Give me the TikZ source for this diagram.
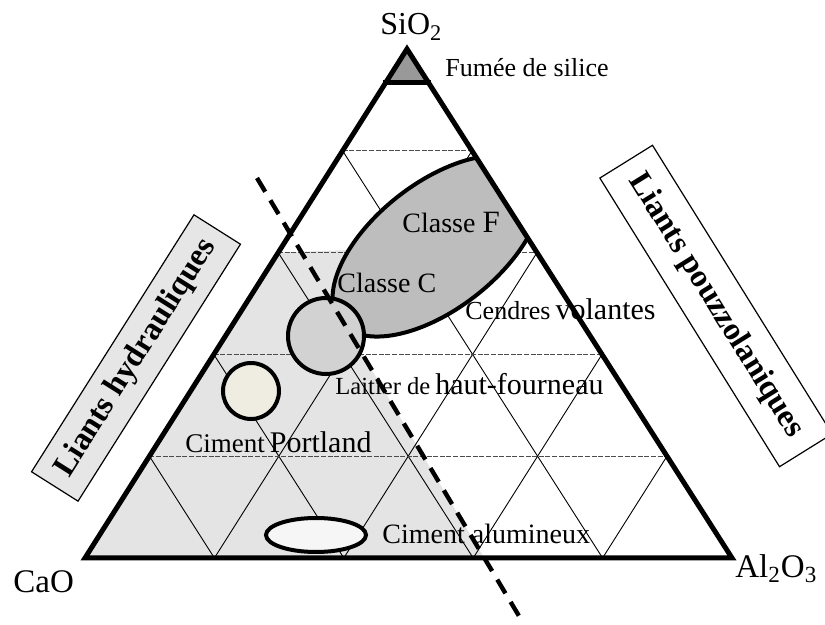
\documentclass[tikz,border=0pt]{standalone}
\usepackage{fontspec}
\setmainfont{Liberation Serif}
\usetikzlibrary{calc}
\definecolor{zonegray}{HTML}{E4E4E4}
\definecolor{ellFgray}{HTML}{BDBDBD}
\definecolor{laitgray}{HTML}{D2D2D2}
\definecolor{portcream}{HTML}{EFEDE2}
\definecolor{alumwhite}{HTML}{F6F6F6}
\definecolor{fumgray}{HTML}{999999}
\definecolor{boxgray}{HTML}{E6E6E6}
\begin{document}
\begin{tikzpicture}[x=0.5pt,y=-0.5pt,
  hgrid/.style={draw=black!70, line width=0.5pt, dash pattern=on 2.5pt off 0.8pt},
  dgrid/.style={draw=black, line width=0.45pt},
  thickedge/.style={line width=2.5pt},
  blob/.style={draw=black, line width=2pt},
  dashline/.style={line width=2.2pt, dash pattern=on 8pt off 5pt},
  lbl/.style={inner sep=0pt, anchor=base west},
  sidebox/.style={draw=black, line width=0.6pt, inner sep=0pt},
  sidetext/.style={font=\bfseries\fontsize{16}{18}\selectfont}]
\useasboundingbox (0,0) rectangle (825,625);
\clip (0,0) rectangle (825,625);
% corners of the diagram
\coordinate (A) at (407,49);
\coordinate (B) at (85,558);
\coordinate (C) at (732,558);
\coordinate (d1) at (257,178);
\coordinate (d2) at (522,621);
% hydraulic zone shading
\fill[zonegray] ($(A)!2/5!(B)$) -- (350,250) -- (351.5,336) -- (484.3,558) -- (B) -- cycle;
% grid
\foreach \k in {1,...,4} {
  \draw[hgrid] ($(A)!\k/5!(B)$) -- ($(A)!\k/5!(C)$);
  \draw[dgrid] ($(A)!\k/5!(B)$) -- ($(B)!{(5-\k)/5}!(C)$);
  \draw[dgrid] ($(A)!\k/5!(C)$) -- ($(B)!\k/5!(C)$);
}
% fumee de silice
\fill[fumgray] (A) -- (385.5,83) -- (428.7,83) -- cycle;
% Classe F ellipse (clipped)
\begin{scope}
  \clip (A) -- (B) -- (C) -- cycle;
  \draw[blob, fill=ellFgray, rotate around={38:(437,246)}] (437,246) ellipse [x radius=123, y radius=63];
\end{scope}
% Laitier circle
\draw[blob, fill=laitgray] (326,336) circle [radius=38];
% Portland circle
\draw[blob, fill=portcream] (251,391) circle [radius=28];
% Ciment alumineux ellipse
\draw[blob, fill=alumwhite] (316,535) ellipse [x radius=50, y radius=17];
% triangle outline
\draw[thickedge] (A) -- (B) -- (C) -- cycle;
\draw[line width=2.5pt] (383,83) -- (431,83);
% dashed separation
\draw[dashline] (d1) -- (d2);
% labels
\node[lbl, font=\fontsize{16}{18}\selectfont] (sio) at (380,35) {SiO\textsubscript{2}};
\node[lbl, font=\fontsize{16.5}{18}\selectfont] (cao) at (13,593) {CaO};
\node[lbl, font=\fontsize{16.5}{18}\selectfont] (alo) at (735,577) {Al\textsubscript{2}O\textsubscript{3}};
\node[lbl, font=\fontsize{13}{15}\selectfont] (fum) at (445,77) {Fumée de silice};
\node[lbl, font=\fontsize{14}{16}\selectfont] (clF) at (402,233) {Classe {\fontsize{15.5}{17}\selectfont F}};
\node[lbl, font=\fontsize{14}{16}\selectfont] (clC) at (337,293) {Classe C};
\node[lbl] (cen) at (465,320) {{\fontsize{13}{15}\selectfont Cendres} {\fontsize{15}{17}\selectfont volantes}};
\node[lbl] (lai) at (335,395) {{\fontsize{12.3}{14}\selectfont Laitier de} {\fontsize{15}{17}\selectfont haut-fourneau}};
\node[lbl] (por) at (185,453) {{\fontsize{13.5}{15}\selectfont Ciment} {\fontsize{15}{17}\selectfont Portland}};
\node[lbl, font=\fontsize{14}{16}\selectfont] (alu) at (382,544) {Ciment alumineux};
% side boxes
\node[sidebox, fill=boxgray, rotate=57.7, minimum width=152pt, minimum height=27.5pt, sidetext] (lh) at (136,358) {Liants hydrauliques};
\node[sidebox, rotate=-58.1, minimum width=170pt, minimum height=31pt, sidetext] (lp) at (716,306) {Liants pouzzolaniques};
\end{tikzpicture}
\end{document}
